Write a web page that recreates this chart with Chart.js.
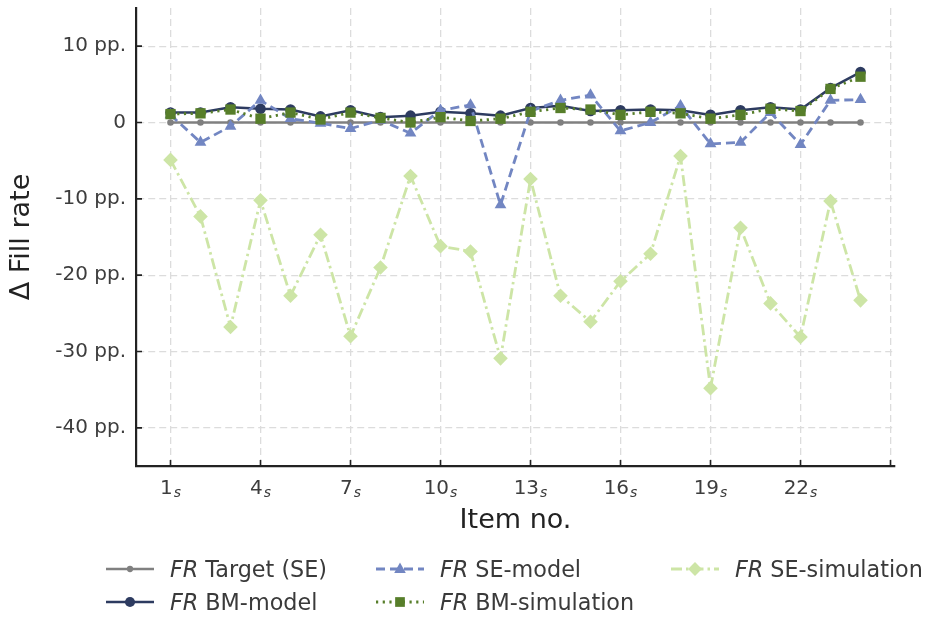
<!DOCTYPE html>
<html>
<head>
<meta charset="utf-8">
<script src="https://cdn.jsdelivr.net/npm/chart.js@4.4.0/dist/chart.umd.min.js"></script>
<style>
  html, body { margin: 0; padding: 0; background: #fff; }
  #wrap { position: relative; width: 929px; height: 618px; }
  #c { position: absolute; left: 0; top: 0; }
  .lg { position: absolute; font-family: "DejaVu Sans", sans-serif; font-size: 22.3px; color: #3a3a3a; white-space: nowrap; height: 30px; line-height: 30px; display: flex; align-items: center; }
  .lg svg { margin-right: 16px; }
  .lg i { margin-right: 7px; }
</style>
</head>
<body>
<div id="wrap">
  <canvas id="c" width="929" height="618"></canvas>
</div>
<script>
// ---- data ----
const items = [1,2,3,4,5,6,7,8,9,10,11,12,13,14,15,16,17,18,19,20,21,22,23,24];
const frTargetSE = [0,0,0,0,0,0,0,0,0,0,0,0,0,0,0,0,0,0,0,0,0,0,0,0];
const frBMModel = [1.3,1.3,2.0,1.8,1.7,0.8,1.6,0.7,0.9,1.4,1.2,0.9,1.9,2.2,1.5,1.6,1.7,1.6,1.0,1.6,2.0,1.7,4.5,6.6];
const frSEModel = [1.0,-2.6,-0.5,2.9,0.5,-0.1,-0.8,0.3,-1.4,1.6,2.3,-10.8,1.5,2.9,3.6,-1.1,0.0,2.2,-2.8,-2.6,1.3,-2.9,2.9,3.0];
const frBMSim = [1.1,1.2,1.7,0.5,1.3,0.4,1.3,0.6,0.0,0.7,0.2,0.5,1.4,1.9,1.7,1.0,1.4,1.2,0.5,1.0,1.8,1.5,4.4,6.0];
const frSESim = [-4.9,-12.3,-26.8,-10.2,-22.7,-14.7,-28.0,-19.0,-7.0,-16.2,-16.9,-30.9,-7.4,-22.7,-26.1,-20.8,-17.2,-4.4,-34.8,-13.8,-23.7,-28.1,-10.3,-23.3];
const xTickValues = [1,4,7,10,13,16,19,22,25];
const xTickMain = ['1','4','7','10','13','16','19','22',''];
const xTickSub = ['s','s','s','s','s','s','s','s',''];
const yTickValues = [10,0,-10,-20,-30,-40];
const yTickLabels = ['10 pp.','0','-10 pp.','-20 pp.','-30 pp.','-40 pp.'];
const seriesNames = ['Target (SE)','BM-model','SE-model','BM-simulation','SE-simulation'];

const C = {
  target: '#808080', bmModel: '#2d3b60', seModel: '#7286c2', bmSim: '#577e2a', seSim: '#cde5a6'
};

function pts(arr) { return items.map((x, i) => ({x: x, y: arr[i]})); }

const styles = [
  {data: frTargetSE, color: C.target, dash: [], width: 2.5, point: 'circle', r: 3.3},
  {data: frBMModel, color: C.bmModel, dash: [], width: 2.5, point: 'circle', r: 5.3},
  {data: frSEModel, color: C.seModel, dash: [9, 5], width: 2.8, point: 'triangle', r: 6.8},
  {data: frBMSim, color: C.bmSim, dash: [2.2, 4.5], width: 2.8, point: 'rect', r: 7.3},
  {data: frSESim, color: C.seSim, dash: [11, 4, 2.5, 4], width: 2.8, point: 'rectRot', r: 7.3}
];

const datasets = styles.map((s, i) => ({
  label: seriesNames[i],
  data: pts(s.data),
  borderColor: s.color,
  backgroundColor: s.color,
  borderWidth: s.width,
  borderDash: s.dash,
  pointStyle: s.point,
  pointRadius: s.r,
  pointBorderWidth: 0,
  pointBackgroundColor: s.color,
  tension: 0,
  order: styles.length - i
}));

const axisExtras = {
  id: 'axisExtras',
  afterDraw(chart) {
    const ctx = chart.ctx, a = chart.chartArea;
    const xs = chart.scales.x, ys = chart.scales.y;
    ctx.save();
    // inward tick marks
    ctx.strokeStyle = '#222';
    ctx.lineWidth = 1.6;
    ctx.beginPath();
    xTickValues.forEach(v => { const px = xs.getPixelForValue(v); ctx.moveTo(px, a.bottom); ctx.lineTo(px, a.bottom - 6); });
    yTickValues.forEach(v => { const py = ys.getPixelForValue(v); ctx.moveTo(a.left, py); ctx.lineTo(a.left + 6, py); });
    ctx.stroke();
    // x tick labels with subscript
    ctx.fillStyle = '#3d3d3d';
    ctx.textBaseline = 'alphabetic';
    ctx.textAlign = 'left';
    const mainFont = '20px "DejaVu Sans"', subFont = 'italic 14px "DejaVu Sans"';
    xTickValues.forEach((v, i) => {
      if (!xTickMain[i]) return;
      const px = xs.getPixelForValue(v);
      ctx.font = mainFont; const w1 = ctx.measureText(xTickMain[i]).width;
      ctx.font = subFont; const w2 = ctx.measureText(xTickSub[i]).width;
      const x0 = px - (w1 + w2 + 1) / 2;
      ctx.font = mainFont; ctx.fillText(xTickMain[i], x0, a.bottom + 28);
      ctx.font = subFont; ctx.fillText(xTickSub[i], x0 + w1 + 1, a.bottom + 31);
    });
    ctx.restore();
  }
};

const tickFont = {family: 'DejaVu Sans', size: 20};
const titleFont = {family: 'DejaVu Sans', size: 27};

new Chart(document.getElementById('c'), {
  type: 'line',
  data: {datasets},
  options: {
    responsive: false,
    animation: false,
    devicePixelRatio: 1,
    layout: {padding: {left: 0, top: 8, right: 34, bottom: 72}},
    plugins: {legend: {display: false}, tooltip: {enabled: false}},
    scales: {
      x: {
        type: 'linear',
        min: -0.15, max: 25.15,
        afterBuildTicks(s) { s.ticks = xTickValues.map(v => ({value: v})); },
        afterFit(s) { s.height = 80; s.paddingLeft = 0; s.paddingRight = 0; },
        ticks: {
          display: false, autoSkip: false, maxRotation: 0
        },
        grid: {color: '#dcdcdc', lineWidth: 1.3, drawTicks: false},
        border: {display: true, color: '#222', width: 2.2, dash: [7, 4]},
        title: {display: true, text: 'Item no.', font: titleFont, color: '#222', padding: {top: 0, bottom: 9}}
      },
      y: {
        type: 'linear',
        min: -45, max: 15,
        afterBuildTicks(s) { s.ticks = yTickValues.map(v => ({value: v})); },
        afterFit(s) { s.width = 136; s.paddingTop = 0; s.paddingBottom = 0; },
        ticks: {
          padding: 10, font: tickFont, color: '#3d3d3d',
          callback(v) { const i = yTickValues.indexOf(v); return i >= 0 ? yTickLabels[i] : ''; }
        },
        grid: {color: '#dcdcdc', lineWidth: 1.3, drawTicks: false},
        border: {display: true, color: '#222', width: 2.2, dash: [7, 4]},
        title: {display: true, text: 'Δ Fill rate', font: titleFont, color: '#222', padding: {top: 6, bottom: 0}}
      }
    }
  },
  plugins: [axisExtras]
});

// ---- legend (HTML, matplotlib-like 3 columns, column-major) ----
function markerSVG(s) {
  const w = 48, h = 20, cy = 10, cx = 24;
  let dash = s.dash.length ? `stroke-dasharray="${s.dash.join(' ')}"` : '';
  let m = '';
  const r = s.r * 0.95;
  if (s.point === 'circle') m = `<circle cx="${cx}" cy="${cy}" r="${r}" fill="${s.color}"/>`;
  if (s.point === 'triangle') m = `<polygon points="${cx},${cy - r} ${cx + r * 0.9},${cy + r * 0.6} ${cx - r * 0.9},${cy + r * 0.6}" fill="${s.color}"/>`;
  if (s.point === 'rect') m = `<rect x="${cx - r * 0.7}" y="${cy - r * 0.7}" width="${r * 1.4}" height="${r * 1.4}" fill="${s.color}"/>`;
  if (s.point === 'rectRot') m = `<polygon points="${cx},${cy - r} ${cx + r},${cy} ${cx},${cy + r} ${cx - r},${cy}" fill="${s.color}"/>`;
  return `<svg width="${w}" height="${h}"><line x1="0" y1="${cy}" x2="${w}" y2="${cy}" stroke="${s.color}" stroke-width="${s.width}" ${dash}/>${m}</svg>`;
}
const legendPos = [
  {left: 106, top: 554},
  {left: 106, top: 587},
  {left: 376, top: 554},
  {left: 376, top: 587},
  {left: 671, top: 554}
];
const wrap = document.getElementById('wrap');
styles.forEach((s, i) => {
  const d = document.createElement('div');
  d.className = 'lg';
  d.style.left = legendPos[i].left + 'px';
  d.style.top = legendPos[i].top + 'px';
  d.innerHTML = markerSVG(s) + '<i>FR</i>' + '<span>' + seriesNames[i] + '</span>';
  wrap.appendChild(d);
});
</script>
</body>
</html>
